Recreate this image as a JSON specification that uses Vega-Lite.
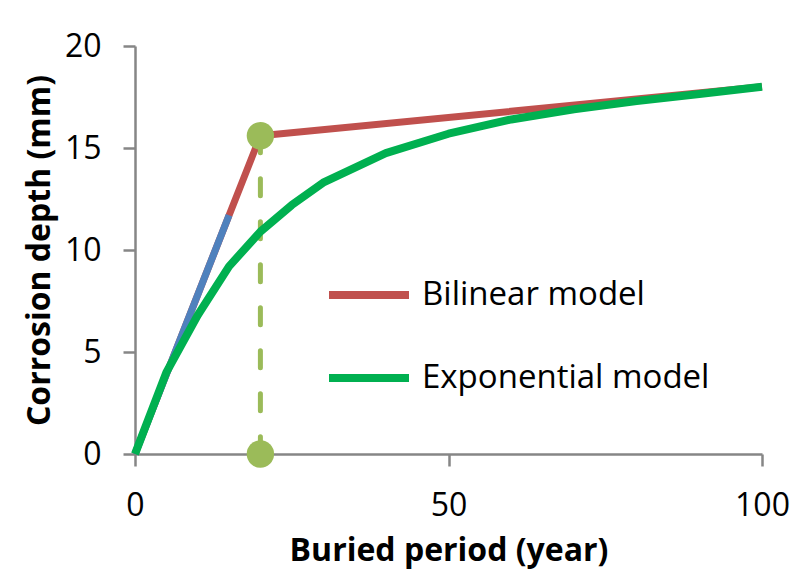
{
  "$schema": "https://vega.github.io/schema/vega-lite/v6.json",
  "width": 627,
  "height": 408,
  "autosize": {"type": "none"},
  "padding": {"left": 135, "top": 46, "right": 43, "bottom": 115},
  "background": "white",
  "config": {
    "view": {"stroke": null},
    "font": "Open Sans",
    "axis": {
      "grid": false,
      "domainColor": "#868686",
      "domainWidth": 2.5,
      "tickColor": "#868686",
      "tickWidth": 2.5,
      "tickSize": 12,
      "labelFontSize": 32,
      "labelColor": "#000000",
      "labelFont": "Open Sans",
      "labelFlush": false,
      "titleFont": "Open Sans",
      "titleFontSize": 32,
      "titleFontWeight": "bold",
      "titleColor": "#000000"
    }
  },
  "datasets": {
    "bilinear": [
      {"period": 0, "depth": 0, "model": "Bilinear model"},
      {"period": 20, "depth": 15.6, "model": "Bilinear model"},
      {"period": 100, "depth": 18.0, "model": "Bilinear model"}
    ],
    "initial": [
      {"period": 0, "depth": 0},
      {"period": 15, "depth": 11.7}
    ],
    "exponential": [
      {"period": 0, "depth": 0, "model": "Exponential model"},
      {"period": 5, "depth": 4.0, "model": "Exponential model"},
      {"period": 10, "depth": 6.8, "model": "Exponential model"},
      {"period": 15, "depth": 9.2, "model": "Exponential model"},
      {"period": 20, "depth": 10.9, "model": "Exponential model"},
      {"period": 25, "depth": 12.2, "model": "Exponential model"},
      {"period": 30, "depth": 13.3, "model": "Exponential model"},
      {"period": 40, "depth": 14.75, "model": "Exponential model"},
      {"period": 50, "depth": 15.7, "model": "Exponential model"},
      {"period": 60, "depth": 16.4, "model": "Exponential model"},
      {"period": 70, "depth": 16.9, "model": "Exponential model"},
      {"period": 80, "depth": 17.3, "model": "Exponential model"},
      {"period": 90, "depth": 17.65, "model": "Exponential model"},
      {"period": 100, "depth": 18.0, "model": "Exponential model"}
    ],
    "knee": [
      {"period": 20, "depth": 15.6, "base": 0}
    ],
    "kneePoints": [
      {"period": 20, "depth": 15.6},
      {"period": 20, "depth": 0}
    ]
  },
  "encoding": {
    "x": {
      "field": "period",
      "type": "quantitative",
      "scale": {"domain": [0, 100], "nice": false},
      "axis": {"values": [0, 50, 100], "title": "Buried period (year)", "labelPadding": 24, "titlePadding": 14}
    },
    "y": {
      "field": "depth",
      "type": "quantitative",
      "scale": {"domain": [0, 20], "nice": false},
      "axis": {"values": [0, 5, 10, 15, 20], "title": "Corrosion depth (mm)", "labelPadding": 22, "titlePadding": 8}
    }
  },
  "layer": [
    {
      "data": {"name": "bilinear"},
      "mark": {"type": "line", "strokeWidth": 7, "strokeJoin": "round"},
      "encoding": {
        "color": {
          "field": "model",
          "type": "nominal",
          "scale": {"domain": ["Bilinear model", "Exponential model"], "range": ["#C0504D", "#00B050"]},
          "legend": {
            "orient": "none",
            "legendX": 190,
            "legendY": 205,
            "title": null,
            "labelFontSize": 33,
            "labelFont": "Open Sans",
            "labelColor": "#000000",
            "labelLimit": 0,
            "labelOffset": 9,
            "symbolType": "stroke",
            "symbolSize": 6400,
            "symbolStrokeWidth": 8,
            "rowPadding": 22
          }
        }
      }
    },
    {
      "data": {"name": "initial"},
      "mark": {"type": "line", "strokeWidth": 7, "color": "#4F81BD"},
      "encoding": {}
    },
    {
      "data": {"name": "knee"},
      "mark": {"type": "rule", "strokeWidth": 5, "strokeDash": [17, 26], "strokeCap": "round", "color": "#9BBB59"},
      "encoding": {"y2": {"field": "base"}}
    },
    {
      "data": {"name": "exponential"},
      "mark": {"type": "line", "strokeWidth": 8, "strokeJoin": "round"},
      "encoding": {
        "color": {"field": "model", "type": "nominal"}
      }
    },
    {
      "data": {"name": "kneePoints"},
      "mark": {"type": "point", "filled": true, "size": 750, "opacity": 1, "color": "#9BBB59"},
      "encoding": {}
    }
  ]
}
